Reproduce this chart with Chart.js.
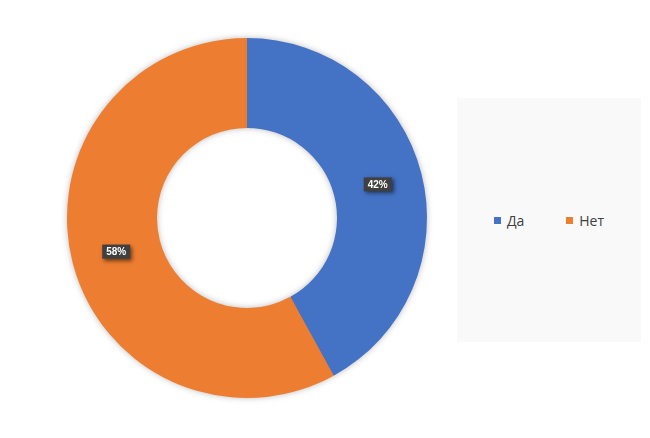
<!DOCTYPE html>
<html>
<head>
<meta charset="utf-8">
<script src="https://cdn.jsdelivr.net/npm/chart.js@4.4.1/dist/chart.umd.min.js"></script>
<style>
  body { margin: 0; background: #ffffff; font-family: "Open Sans", "Liberation Sans", sans-serif; }
  #wrap { position: relative; width: 650px; height: 438px; }
  #legenda {
    position: absolute; left: 457px; top: 98px; width: 184px; height: 244px;
    background: #f9f9f9;
    display: flex; align-items: center; justify-content: center;
    font-size: 14px; color: #404040;
  }
  .tetel { display: flex; align-items: center; margin: 0 0 0 0; }
  .tetel + .tetel { margin-left: 42px; }
  .negyzet { width: 7px; height: 7px; margin-right: 6px; }
</style>
</head>
<body>
<div id="wrap">
  <canvas id="grafikon" width="650" height="438"></canvas>
  <div id="legenda"></div>
</div>
<script>
// adatok
var cimkek = ["Да", "Нет"];
var ertekek = [42, 58];
var szinek = ["#4472C4", "#ED7D31"];

// legenda kézzel
var legenda = document.getElementById("legenda");
for (var i = 0; i < cimkek.length; i++) {
    var t = document.createElement("div");
    t.className = "tetel";
    t.innerHTML = '<span class="negyzet" style="background:' + szinek[i] + '"></span>' + cimkek[i];
    legenda.appendChild(t);
}

// árnyék a gyűrű alá
var arnyek = {
    id: "arnyek",
    beforeDatasetsDraw: function (chart) {
        var arc = chart.getDatasetMeta(0).data[0];
        if (!arc) return;
        var ctx = chart.ctx;
        ctx.save();
        ctx.shadowColor = "rgba(0,0,0,0.35)";
        ctx.shadowBlur = 7;
        ctx.fillStyle = "#888";
        ctx.beginPath();
        ctx.arc(arc.x, arc.y, arc.outerRadius - 1, 0, Math.PI * 2);
        ctx.arc(arc.x, arc.y, arc.innerRadius + 1, 0, Math.PI * 2, true);
        ctx.fill();
        ctx.restore();
    }
};

// százalék címkék sötét dobozban
var cimkeRajz = {
    id: "cimkeRajz",
    afterDatasetsDraw: function (chart) {
        var ctx = chart.ctx;
        var meta = chart.getDatasetMeta(0);
        var osszeg = ertekek.reduce(function (a, b) { return a + b; }, 0);
        ctx.save();
        ctx.font = "bold 10px 'Liberation Sans', Arial, sans-serif";
        ctx.textAlign = "center";
        ctx.textBaseline = "middle";
        meta.data.forEach(function (arc, j) {
            var p = arc.tooltipPosition();
            var szoveg = Math.round(ertekek[j] / osszeg * 100) + "%";
            var w = ctx.measureText(szoveg).width + 8;
            var h = 14;
            ctx.save();
            ctx.shadowColor = "rgba(0,0,0,0.55)";
            ctx.shadowBlur = 4;
            ctx.shadowOffsetX = 2;
            ctx.shadowOffsetY = 2;
            ctx.fillStyle = "#404040";
            ctx.fillRect(p.x - w / 2, p.y - h / 2, w, h);
            ctx.restore();
            ctx.fillStyle = "#ffffff";
            ctx.fillText(szoveg, p.x, p.y + 0.5);
        });
        ctx.restore();
    }
};

new Chart("grafikon", {
    type: "doughnut",
    data: {
        labels: cimkek,
        datasets: [{
            data: ertekek,
            backgroundColor: szinek,
            borderWidth: 0
        }]
    },
    options: {
        responsive: false,
        animation: false,
        cutout: "50%",
        layout: { padding: { top: 38, bottom: 40, left: 67, right: 223 } },
        plugins: {
            legend: { display: false },
            tooltip: { enabled: false }
        }
    },
    plugins: [arnyek, cimkeRajz]
});
</script>
</body>
</html>
